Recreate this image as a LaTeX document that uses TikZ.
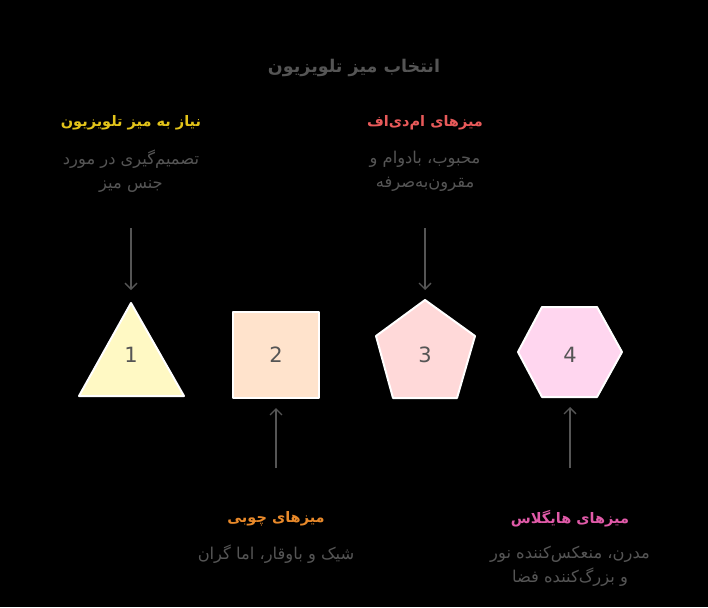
\documentclass[tikz,border=0pt]{standalone}
\usepackage{fontspec}
\usetikzlibrary{arrows.meta}
\newfontfamily\arabicfont[Script=Arabic]{DejaVu Sans}
\newfontfamily\numfont{DejaVu Sans}
\TeXXeTstate=1
\definecolor{txtgray}{HTML}{555555}
\definecolor{headyellow}{HTML}{E3C41A}
\definecolor{headred}{HTML}{E85A5A}
\definecolor{headorange}{HTML}{E8892A}
\definecolor{headpink}{HTML}{E05AA8}
\definecolor{fillyellow}{HTML}{FFF9C4}
\definecolor{fillorange}{HTML}{FFE3CC}
\definecolor{fillred}{HTML}{FFD9D9}
\definecolor{fillpink}{HTML}{FFD6EF}
\tikzset{
  shapebox/.style={draw=white, line width=2pt, line join=round},
  headtxt/.style={font=\arabicfont\bfseries\fontsize{14.5}{18}\selectfont, anchor=center},
  bodytxt/.style={font=\arabicfont\fontsize{16.3}{24}\selectfont, text=txtgray, align=center, anchor=center},
  numtxt/.style={font=\numfont\fontsize{21}{24}\selectfont, text=txtgray},
  conn/.style={draw=txtgray, line width=1.3pt, -{Straight Barb[length=6pt,width=12pt]}}
}
\begin{document}
\begin{tikzpicture}[x=1pt,y=-1pt]
\fill[black] (0,0) rectangle (708,607);
\useasboundingbox (0,0) rectangle (708,607);
% title
\node[font=\arabicfont\bfseries\fontsize{17.5}{20}\selectfont, text=txtgray] (title) at (354,68) {\beginR انتخاب میز تلویزیون\endR};
% shapes
\draw[shapebox, fill=fillyellow] (131,303) -- (184,396) -- (79,396) -- cycle;
\node[numtxt] (n1) at (131,355) {1};
\draw[shapebox, fill=fillorange] (233,312) rectangle (319,398);
\node[numtxt] (n2) at (276,355) {2};
\draw[shapebox, fill=fillred] (425,300) -- (475,336) -- (457,398) -- (393,398) -- (376,336) -- cycle;
\node[numtxt] (n3) at (425,355) {3};
\draw[shapebox, fill=fillpink] (518,352) -- (542,307) -- (597,307) -- (622,352) -- (597,397) -- (542,397) -- cycle;
\node[numtxt] (n4) at (570,355) {4};
% anchors for connectors
\coordinate (s1) at (131,303);
\coordinate (s2) at (276,398);
\coordinate (s3) at (425,300);
\coordinate (s4) at (570,397);
% labels top
\node[headtxt, text=headyellow] (h1) at (131,123) {\beginR نیاز به میز تلویزیون\endR};
\node[bodytxt] (b1) at (131,171) {\beginR تصمیم‌گیری در مورد\endR\\\beginR جنس میز\endR};
\node[headtxt, text=headred] (h3) at (425,123) {\beginR میزهای ام‌دی‌اف\endR};
\node[bodytxt] (b3) at (425,171) {\beginR محبوب، بادوام و\endR\\\beginR مقرون‌به‌صرفه\endR};
% labels bottom
\node[headtxt, text=headorange] (h2) at (276,519) {\beginR میزهای چوبی\endR};
\node[bodytxt] (b2) at (276,554) {\beginR شیک و باوقار، اما گران\endR};
\node[headtxt, text=headpink] (h4) at (570,519) {\beginR میزهای هایگلاس\endR};
\node[bodytxt] (b4) at (570,566) {\beginR مدرن، منعکس‌کننده نور\endR\\\beginR و بزرگ‌کننده فضا\endR};
% connectors
\coordinate (a1) at (131,228);
\coordinate (a3) at (425,228);
\coordinate (a2) at (276,468);
\coordinate (a4) at (570,468);
\draw[conn] (a1) -- ([yshift=13]s1);
\draw[conn] (a3) -- ([yshift=10]s3);
\draw[conn] (a2) -- ([yshift=-10]s2);
\draw[conn] (a4) -- ([yshift=-10]s4);
\end{tikzpicture}
\end{document}
